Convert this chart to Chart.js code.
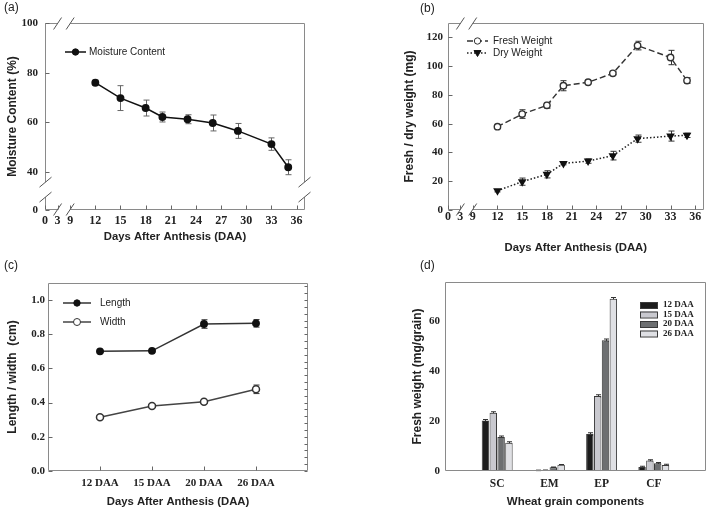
<!DOCTYPE html>
<html>
<head>
<meta charset="utf-8">
<script src="https://cdn.jsdelivr.net/npm/chart.js"></script>
<style>
  html, body { margin: 0; padding: 0; background: #fff; }
  #fig { position: relative; width: 709px; height: 510px; overflow: hidden; }
  #fig canvas { position: absolute; }
  .tag { position: absolute; font: 12px "Liberation Sans", Arial, sans-serif; color: #222; }
</style>
</head>
<body>
<div id="fig">
  <canvas id="panelA" width="355" height="250" style="left:0;top:0;width:355px;height:250px"></canvas>
  <canvas id="panelB" width="354" height="260" style="left:355px;top:0;width:354px;height:260px"></canvas>
  <canvas id="panelC" width="355" height="260" style="left:0;top:250px;width:355px;height:260px"></canvas>
  <canvas id="panelD" width="354" height="260" style="left:355px;top:250px;width:354px;height:260px"></canvas>
  <div class="tag" style="left:4px;top:0px">(a)</div>
  <div class="tag" style="left:420px;top:1px">(b)</div>
  <div class="tag" style="left:4px;top:258px">(c)</div>
  <div class="tag" style="left:420px;top:258px">(d)</div>
</div>
<script>
const SERIF = '"Liberation Serif", "Times New Roman", serif';
const SANS = '"Liberation Sans", Arial, sans-serif';

// (a) moisture content
const daysA = [12, 15, 18, 20, 23, 26, 29, 33, 35];
const moisture = [76, 69.8, 65.8, 62.2, 61.3, 59.8, 56.6, 51.3, 42];
const moistureErr = [1, 5, 3.2, 2, 1.8, 3.2, 3, 2.5, 3];

// (b) fresh / dry weight
const daysB = [12, 15, 18, 20, 23, 26, 29, 33, 35];
const freshWeight = [57.9, 66.7, 72.8, 86.4, 88.8, 95, 114.3, 106, 90];
const freshErr = [1, 3, 2, 3.5, 1, 1, 3, 5, 2];
const dryWeight = [13.4, 19.7, 24.8, 32.4, 34, 37.8, 49.6, 51.4, 51.9];
const dryErr = [0.8, 2.5, 2.5, 1, 1.5, 3, 2.5, 3.5, 1.5];

// (c) length / width
const stages = ['12 DAA', '15 DAA', '20 DAA', '26 DAA'];
const grainLength = [0.70, 0.703, 0.86, 0.864];
const lengthErr = [0.006, 0.006, 0.025, 0.022];
const grainWidth = [0.315, 0.38, 0.405, 0.478];
const widthErr = [0.006, 0.008, 0.008, 0.025];

// (d) fresh weight by component
const components = ['SC', 'EM', 'EP', 'CF'];
const fw12 = [20.2, 0.25, 14.8, 1.6];
const fw15 = [23.3, 0.3, 30.0, 4.2];
const fw20 = [13.6, 1.5, 52.3, 3.1];
const fw26 = [11.3, 2.5, 68.9, 2.4];
const fwErr = [0.4, 0.1, 0.5, 0.3];

// tick labels
const dayTicks = [0, 3, 9, 12, 15, 18, 21, 24, 27, 30, 33, 36];
const moistTicks = [0, 40, 60, 80, 100];

// broken x axis: 0..9 squeezed
function axisDay(d) {
    if (d >= 9) return d;
    if (d <= 3) return 6 + d * 0.5;
    return 7.5 + (d - 3) * 0.25;
}
// broken y axis (a): 0..40 squeezed
function axisMoist(v) {
    return v >= 40 ? v : 24.8 + v * 15.2 / 40;
}

Chart.defaults.font.family = SANS;
Chart.defaults.color = '#222';
Chart.defaults.animation = false;

// frame with gaps, break marks and inward ticks
const framePlugin = {
    id: 'frame',
    afterDraw(chart, args, o) {
        const { ctx, chartArea: a, scales } = chart;
        const xs = scales.x, ys = scales.y;
        const L = Math.round(a.left) + 0.5, R = Math.round(a.right) - 0.5;
        const T = Math.round(a.top) + 0.5, B = Math.round(a.bottom) - 0.5;
        const line = (x1, y1, x2, y2) => { ctx.beginPath(); ctx.moveTo(x1, y1); ctx.lineTo(x2, y2); ctx.stroke(); };
        ctx.save();
        ctx.strokeStyle = o.color || '#888';
        ctx.lineWidth = 1;
        [T, B].forEach(yy => {
            if (o.xBreak) {
                const b1 = xs.getPixelForValue(o.xBreak[0]), b2 = xs.getPixelForValue(o.xBreak[1]);
                line(L, yy, b1, yy); line(b2, yy, R, yy);
                ctx.strokeStyle = '#555';
                [b1, b2].forEach(bx => line(bx - 4, yy + 6, bx + 4, yy - 6));
                ctx.strokeStyle = o.color || '#888';
            } else line(L, yy, R, yy);
        });
        [L, R].forEach(xx => {
            if (o.yBreak) {
                const b1 = ys.getPixelForValue(o.yBreak[1]), b2 = ys.getPixelForValue(o.yBreak[0]);
                line(xx, T, xx, b1); line(xx, b2, xx, B);
                ctx.strokeStyle = '#555';
                [b1, b2].forEach(by => line(xx - 6, by + 5, xx + 6, by - 5));
                ctx.strokeStyle = o.color || '#888';
            } else line(xx, T, xx, B);
        });
        ctx.strokeStyle = '#666';
        const tl = o.tick === undefined ? 4 : o.tick;
        if (tl > 0) {
            xs.ticks.forEach(t => { const px = Math.round(xs.getPixelForValue(t.value)) + 0.5; line(px, B, px, B - tl); });
            ys.ticks.forEach(t => { const py = Math.round(ys.getPixelForValue(t.value)) + 0.5; line(L, py, L + tl, py); });
        }
        if (o.minorStep) {
            for (let v = 0; v <= ys.max + 1e-9; v += o.minorStep) {
                const py = Math.round(ys.getPixelForValue(v)) + 0.5;
                line(R, py, R - 3, py);
            }
        }
        ctx.restore();
    }
};

// vertical error bars from dataset.errors
const errorPlugin = {
    id: 'errorBars',
    beforeDatasetsDraw(chart, args, o) {
        const ctx = chart.ctx;
        ctx.save();
        ctx.strokeStyle = o.color || '#444';
        ctx.lineWidth = 1;
        chart.data.datasets.forEach((ds, i) => {
            if (!ds.errors) return;
            const meta = chart.getDatasetMeta(i);
            const ys = chart.scales[meta.yAxisID];
            meta.data.forEach((el, j) => {
                const e = ds.errors[j];
                if (!e) return;
                const v = ds.data[j].y;
                const top = ys.getPixelForValue(v + e), bot = ys.getPixelForValue(v - e);
                const x = Math.round(el.x) + 0.5, w = o.cap || 3;
                ctx.beginPath();
                ctx.moveTo(x, top); ctx.lineTo(x, bot);
                ctx.moveTo(x - w, top); ctx.lineTo(x + w, top);
                ctx.moveTo(x - w, bot); ctx.lineTo(x + w, bot);
                ctx.stroke();
            });
        });
        ctx.restore();
    }
};

function drawMarker(ctx, ds, x, y) {
    const r = ds.pointRadius;
    ctx.fillStyle = ds.pointBackgroundColor;
    ctx.strokeStyle = ds.pointBorderColor;
    ctx.lineWidth = 1;
    ctx.beginPath();
    if (ds.pointStyle === 'triangle') {
        ctx.moveTo(x - r, y - r * 0.7);
        ctx.lineTo(x + r, y - r * 0.7);
        ctx.lineTo(x, y + r);
        ctx.closePath();
    } else {
        ctx.arc(x, y, r, 0, Math.PI * 2);
    }
    ctx.fill();
    ctx.stroke();
}

// small legend drawn inside the plot
const keyPlugin = {
    id: 'key',
    afterDraw(chart, args, o) {
        if (!o.x) return;
        const ctx = chart.ctx;
        chart.data.datasets.forEach((ds, k) => {
            const y = o.y + k * o.gap;
            ctx.save();
            if (o.kind === 'box') {
                ctx.fillStyle = ds.backgroundColor;
                ctx.strokeStyle = ds.borderColor;
                ctx.lineWidth = 1;
                ctx.fillRect(o.x, y - 3, o.w, 6);
                ctx.strokeRect(o.x + 0.5, y - 2.5, o.w, 6);
            } else {
                ctx.strokeStyle = ds.borderColor;
                ctx.lineWidth = ds.borderWidth;
                ctx.setLineDash(ds.borderDash || []);
                ctx.beginPath();
                ctx.moveTo(o.x, y); ctx.lineTo(o.x + o.w, y);
                ctx.stroke();
                ctx.setLineDash([]);
                drawMarker(ctx, ds, o.x + o.w / 2, y);
            }
            ctx.fillStyle = '#222';
            ctx.font = o.font;
            ctx.textBaseline = 'middle';
            ctx.fillText(ds.label, o.x + o.w + o.textGap, y);
            ctx.restore();
        });
    }
};

Chart.register(framePlugin, errorPlugin, keyPlugin);

const tickFont = { family: SERIF, size: 11, weight: 'bold' };
const xTickFont = { family: SERIF, size: 12, weight: 'bold' };
const xTitleFont = { family: SANS, size: 11.3, weight: 'bold' };
const yTitleFont = { family: SANS, size: 12, weight: 'bold' };
const noGrid = { display: false, drawTicks: false };

function fixedTicks(values) {
    return scale => { scale.ticks = values.map(v => ({ value: v })); };
}

// ---------- (a) ----------
new Chart(document.getElementById('panelA'), {
    type: 'line',
    data: {
        datasets: [{
            label: 'Moisture Content',
            data: daysA.map((d, i) => ({ x: axisDay(d), y: moisture[i] })),
            errors: moistureErr,
            borderColor: '#111',
            borderWidth: 1.5,
            pointRadius: 3.2,
            pointBackgroundColor: '#111',
            pointBorderColor: '#111'
        }]
    },
    options: {
        responsive: false,
        layout: { padding: { left: 0, right: 50, top: 23, bottom: 0 } },
        scales: {
            x: {
                type: 'linear', min: 6, max: 37,
                afterBuildTicks: fixedTicks(dayTicks.map(axisDay)),
                afterFit: s => { s.height = 40; },
                grid: noGrid, border: { display: false },
                ticks: { font: xTickFont, padding: 4, autoSkip: false, maxRotation: 0, callback: (v, i) => dayTicks[i] },
                title: { display: true, text: 'Days After Anthesis (DAA)', font: xTitleFont, padding: { top: 0, bottom: 6.4 } }
            },
            y: {
                min: 24.8, max: 100,
                afterBuildTicks: fixedTicks(moistTicks.map(axisMoist)),
                afterFit: s => { s.width = 45; },
                grid: noGrid, border: { display: false },
                ticks: { font: tickFont, padding: 7, autoSkip: false, callback: (v, i) => moistTicks[i] },
                title: { display: true, text: 'Moisture Content (%)', font: yTitleFont, padding: { top: 5, bottom: 0 } }
            }
        },
        plugins: {
            legend: { display: false },
            tooltip: { enabled: false },
            frame: { color: '#8a8a8a', xBreak: [7.5, 9], yBreak: [30, 36] },
            errorBars: { color: '#666', cap: 3 },
            key: { x: 65, y: 52, w: 21, gap: 12, textGap: 3, font: '10px ' + SANS }
        }
    }
});

// ---------- (b) ----------
new Chart(document.getElementById('panelB'), {
    type: 'line',
    data: {
        datasets: [{
            label: 'Fresh Weight',
            data: daysB.map((d, i) => ({ x: axisDay(d), y: freshWeight[i] })),
            errors: freshErr,
            borderColor: '#333',
            borderWidth: 1.4,
            borderDash: [6, 3],
            pointRadius: 3.2,
            pointBackgroundColor: '#fff',
            pointBorderColor: '#333'
        }, {
            label: 'Dry Weight',
            data: daysB.map((d, i) => ({ x: axisDay(d), y: dryWeight[i] })),
            errors: dryErr,
            borderColor: '#222',
            borderWidth: 1.5,
            borderDash: [1.5, 2],
            pointStyle: 'triangle',
            rotation: 180,
            pointRadius: 3.5,
            pointBackgroundColor: '#111',
            pointBorderColor: '#111'
        }]
    },
    options: {
        responsive: false,
        layout: { padding: { left: 42, right: 1, top: 23, bottom: 0 } },
        scales: {
            x: {
                type: 'linear', min: 6, max: 37,
                afterBuildTicks: fixedTicks(dayTicks.map(axisDay)),
                afterFit: s => { s.height = 50; },
                grid: noGrid, border: { display: false },
                ticks: { font: xTickFont, padding: 0, autoSkip: false, maxRotation: 0, callback: (v, i) => dayTicks[i] },
                title: { display: true, text: 'Days After Anthesis (DAA)', font: xTitleFont, padding: { top: 0, bottom: 5.4 } }
            },
            y: {
                min: 0, max: 130,
                afterBuildTicks: fixedTicks([0, 20, 40, 60, 80, 100, 120]),
                afterFit: s => { s.width = 51; },
                grid: noGrid, border: { display: false },
                ticks: { font: tickFont, padding: 5, autoSkip: false },
                title: { display: true, text: 'Fresh / dry weight (mg)', font: yTitleFont, padding: { top: 5, bottom: 0 } }
            }
        },
        plugins: {
            legend: { display: false },
            tooltip: { enabled: false },
            frame: { color: '#8a8a8a', xBreak: [7.5, 9] },
            errorBars: { color: '#333', cap: 3 },
            key: { x: 112, y: 41, w: 21, gap: 12, textGap: 5, font: '10px ' + SANS }
        }
    }
});

// ---------- (c) ----------
new Chart(document.getElementById('panelC'), {
    type: 'line',
    data: {
        datasets: [{
            label: 'Length',
            data: stages.map((s, i) => ({ x: i + 1, y: grainLength[i] })),
            errors: lengthErr,
            borderColor: '#333',
            borderWidth: 1.5,
            pointRadius: 3.2,
            pointBackgroundColor: '#111',
            pointBorderColor: '#111'
        }, {
            label: 'Width',
            data: stages.map((s, i) => ({ x: i + 1, y: grainWidth[i] })),
            errors: widthErr,
            borderColor: '#444',
            borderWidth: 1.5,
            pointRadius: 3.5,
            pointBackgroundColor: '#fff',
            pointBorderColor: '#333'
        }]
    },
    options: {
        responsive: false,
        layout: { padding: { left: 0, right: 47, top: 33, bottom: 0 } },
        scales: {
            x: {
                type: 'linear', min: 0, max: 5,
                afterBuildTicks: fixedTicks([1, 2, 3, 4]),
                afterFit: s => { s.height = 39; },
                grid: noGrid, border: { display: false },
                ticks: { font: tickFont, padding: 6, autoSkip: false, maxRotation: 0, callback: (v, i) => stages[i] },
                title: { display: true, text: 'Days After Anthesis (DAA)', font: xTitleFont, padding: { top: 0, bottom: 1.4 } }
            },
            y: {
                min: 0, max: 1.1,
                afterBuildTicks: fixedTicks([0, 0.2, 0.4, 0.6, 0.8, 1.0]),
                afterFit: s => { s.width = 48; },
                grid: noGrid, border: { display: false },
                ticks: { font: tickFont, padding: 3, autoSkip: false, callback: v => v.toFixed(1) },
                title: { display: true, text: 'Length / width  (cm)', font: yTitleFont, padding: { top: 5, bottom: 0 } }
            }
        },
        plugins: {
            legend: { display: false },
            tooltip: { enabled: false },
            frame: { color: '#8a8a8a', minorStep: 0.04 },
            errorBars: { color: '#333', cap: 3 },
            key: { x: 63, y: 53, w: 28, gap: 19, textGap: 9, font: '10px ' + SANS }
        }
    }
});

// ---------- (d) ----------
const barColors = ['#1c1c1c', '#c9c9cf', '#6d6f71', '#dfe0e4'];
const barSeries = [fw12, fw15, fw20, fw26];
new Chart(document.getElementById('panelD'), {
    type: 'bar',
    data: {
        datasets: barSeries.map((vals, k) => ({
            label: stages[k],
            data: components.map((c, i) => ({ x: i + 1, y: vals[i] })),
            errors: fwErr,
            backgroundColor: barColors[k],
            borderColor: '#3a3a3a',
            borderWidth: 1,
            categoryPercentage: 0.6,
            barPercentage: 0.95
        }))
    },
    options: {
        responsive: false,
        layout: { padding: { left: 50, right: 3, top: 32, bottom: 0 } },
        scales: {
            x: {
                type: 'linear', min: 0, max: 5, offset: false,
                afterBuildTicks: fixedTicks([1, 2, 3, 4]),
                afterFit: s => { s.height = 39; },
                grid: noGrid, border: { display: false },
                ticks: { font: { family: SERIF, size: 11.5, weight: 'bold' }, padding: 6, autoSkip: false, maxRotation: 0, callback: (v, i) => components[i] },
                title: { display: true, text: 'Wheat grain components', font: { family: SANS, size: 11.5, weight: 'bold' }, padding: { top: 0, bottom: 1.4 } }
            },
            y: {
                min: 0, max: 75.6,
                afterBuildTicks: fixedTicks([0, 20, 40, 60]),
                afterFit: s => { s.width = 40; },
                grid: noGrid, border: { display: false },
                ticks: { font: tickFont, padding: 5, autoSkip: false },
                title: { display: true, text: 'Fresh weight (mg/grain)', font: yTitleFont, padding: { top: 5, bottom: 0 } }
            }
        },
        plugins: {
            legend: { display: false },
            tooltip: { enabled: false },
            frame: { color: '#8a8a8a', tick: 0 },
            errorBars: { color: '#333', cap: 2.5 },
            key: { kind: 'box', x: 285, y: 55, w: 17, gap: 9.5, textGap: 6, font: 'bold 9px ' + SERIF }
        }
    }
});
</script>
</body>
</html>
